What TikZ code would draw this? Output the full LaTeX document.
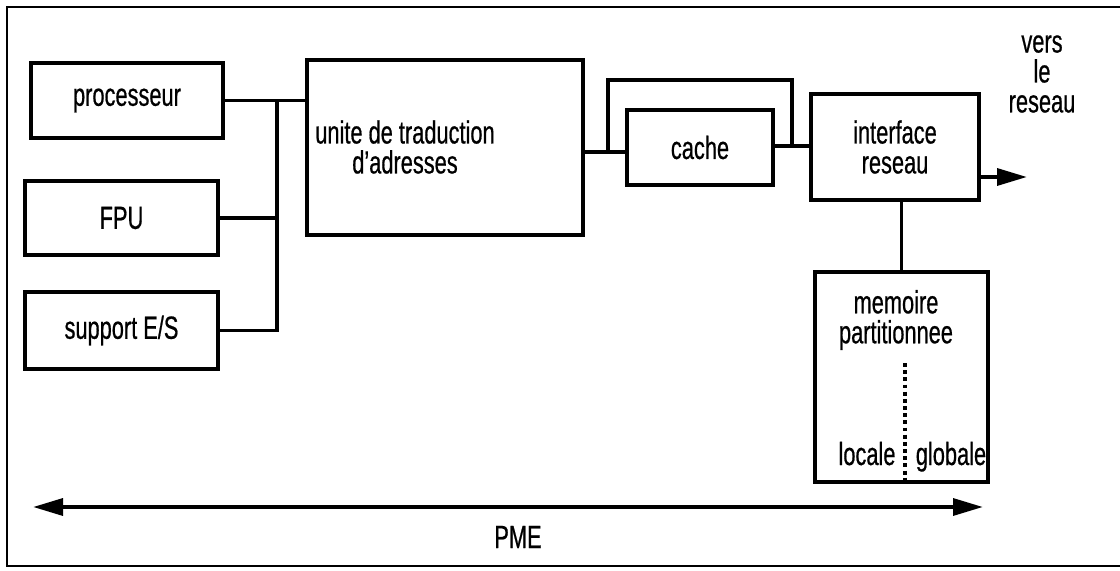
\documentclass[tikz,border=0pt]{standalone}
\usepackage{fontspec}
\setmainfont{Liberation Sans}[FakeStretch=0.68,FakeBold=0.6]
\usetikzlibrary{arrows.meta}
\tikzset{
  >={Triangle[length=0.75cm,width=0.42cm]},
}
\tikzstyle{every node}=[font=\fontsize{22.8pt}{21.3pt}\selectfont,align=center]
\tikzstyle{bloc}=[draw,line width=2.6pt,inner sep=0pt]
\tikzstyle{liaison}=[line width=2.3pt]
\tikzstyle{fleche}=[line width=2.8pt,->]
\tikzstyle{pointille}=[line width=2.4pt,dash pattern=on 2.8pt off 2.3pt]
\tikzstyle{cadre}=[line width=1pt]

\begin{document}
\begin{tikzpicture}[x=0.025cm,y=-0.025cm]
    \useasboundingbox (0,0) rectangle (1120,571);
    \draw[cadre] (1120,7) -- (7,7) -- (7,566) -- (1120,566);

    \node[bloc,minimum width=4.8cm,minimum height=1.875cm] (proc) at (127,100.5) {processeur};
    \node[bloc,minimum width=4.825cm,minimum height=1.85cm] (fpu) at (121.5,218) {FPU};
    \node[bloc,minimum width=4.825cm,minimum height=1.925cm] (es) at (121.5,330.5) {support E/S};
    \node[bloc,minimum width=6.9cm,minimum height=4.375cm] (unite) at (445,147.5) {};
    \node (unitetxt) at (405,147) {unite de traduction\\d'adresses};
    \node[bloc,minimum width=3.65cm,minimum height=1.875cm] (cache) at (700,147.5) {cache};
    \node[bloc,minimum width=4.2cm,minimum height=2.65cm] (iface) at (895,147) {interface\\reseau};
    \node[bloc,minimum width=4.325cm,minimum height=5.25cm] (mem) at (901.5,377) {};
    \node (memtxt) at (896,320) {memoire\\partitionnee};
    \node[anchor=base] (locale) at (867,465) {locale};
    \node[anchor=base] (globale) at (951,465) {globale};
    \node (vers) at (1042,74) {vers\\le\\reseau};
    \node (pme) at (518,537) {PME};

    \coordinate (bus) at (277,0);
    \coordinate (bg) at (608,152);
    \coordinate (bd) at (792,146);
    \coordinate (haut) at (0,80);
    \coordinate (reseau) at (1027,177);
    \coordinate (pmeg) at (33,507);
    \coordinate (pmed) at (983,507);

    \draw[liaison] (proc.east) -- (proc.east -| unite.west);
    \draw[liaison] (proc.east -| bus) |- (es.east);
    \draw[liaison] (fpu.east) -- (fpu.east -| bus);
    \draw[liaison] (unite.east |- bg) -- (cache.west |- bg);
    \draw[liaison] (bg) -- (bg |- haut) -| (bd);
    \draw[liaison] (cache.east |- bd) -- (iface.west |- bd);
    \draw[liaison] (mem.north) -- (mem.north |- iface.south);
    \draw[pointille] (905,363) -- (905,480);
    \draw[fleche] (iface.east |- reseau) -- (reseau);
    \draw[fleche,<->] (pmeg) -- (pmed);
  \end{tikzpicture}
\end{document}
